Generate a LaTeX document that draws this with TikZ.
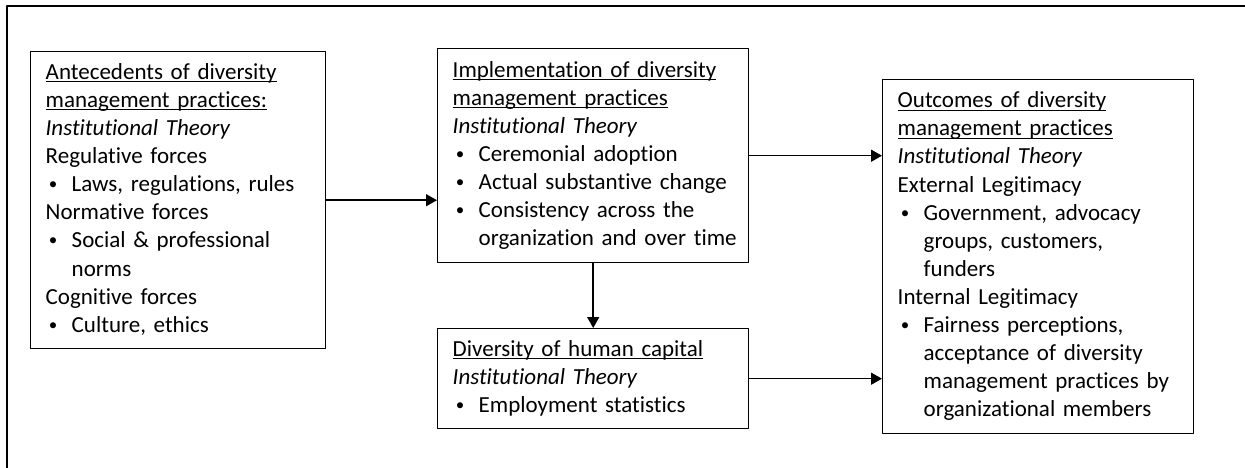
\documentclass[tikz,border=0pt]{standalone}
\usepackage{fontspec}
\setmainfont{Carlito}[Ligatures=NoCommon]
\usetikzlibrary{arrows.meta}
\newcommand\hd[1]{\setbox0\hbox{#1}\rlap{\rule[-1.4pt]{\wd0}{0.5pt}}\box0}
\newcommand\bl{\makebox[13pt][l]{\hspace{1.6pt}\raisebox{1pt}{\fontsize{8.5}{8.5}\selectfont\textbullet}}}
\newcommand\ind{\hspace*{13pt}}
\newcommand\card[1]{\begin{tabular}{@{}l@{}}#1\end{tabular}}
\begin{document}
\begin{tikzpicture}[x=0.5pt,y=-0.5pt,line join=round,>={Triangle[length=5.5pt,width=6pt]},
	font=\fontsize{11.5}{14.05}\selectfont,
	box/.style={draw,line width=0.7pt,anchor=north west,inner sep=0pt,inner xsep=7.5pt,align=left},
	link/.style={->,line width=0.75pt}]
	\useasboundingbox (0,0) rectangle (1245,467);
	\draw[line width=1pt] (7,6) rectangle (1265,490);
	\node[box,text width=132.5pt,minimum height=148.5pt] (ante) at (30,51) {\card{%
			\hd{Antecedents of diversity}\\
			\hd{management practices:}\\
			\textit{Institutional Theory}\\
			Regulative forces\\
			\bl Laws, regulations, rules\\
			Normative forces\\
			\bl Social \& professional\\
			\ind norms\\
			Cognitive forces\\
			\bl Culture, ethics}};
	\node[box,text width=140.5pt,minimum height=107pt] (impl) at (437,48) {\card{%
			\hd{Implementation of diversity}\\
			\hd{management practices}\\
			\textit{Institutional Theory}\\
			\bl Ceremonial adoption\\
			\bl Actual substantive change\\
			\bl Consistency across the\\
			\ind organization and over time}};
	\node[box,text width=140.5pt,minimum height=50pt] (hum) at (437,328) {\card{%
			\hd{Diversity of human capital}\\
			\textit{Institutional Theory}\\
			\bl Employment statistics}};
	\node[box,text width=140.5pt,minimum height=177pt] (outc) at (882,79) {\card{%
			\hd{Outcomes of diversity}\\
			\hd{management practices}\\
			\textit{Institutional Theory}\\
			External Legitimacy\\
			\bl Government, advocacy\\
			\ind groups, customers,\\
			\ind funders\\
			Internal Legitimacy\\
			\bl Fairness perceptions,\\
			\ind acceptance of diversity\\
			\ind management practices by\\
			\ind organizational members}};
	\draw[link] (ante.east) -- (ante.east -| impl.west);
	\draw[link] (impl.east) -- (impl.east -| outc.west);
	\draw[link] (impl.south) -- (hum.north);
	\draw[link] (hum.east) -- (hum.east -| outc.west);
\end{tikzpicture}
\end{document}
